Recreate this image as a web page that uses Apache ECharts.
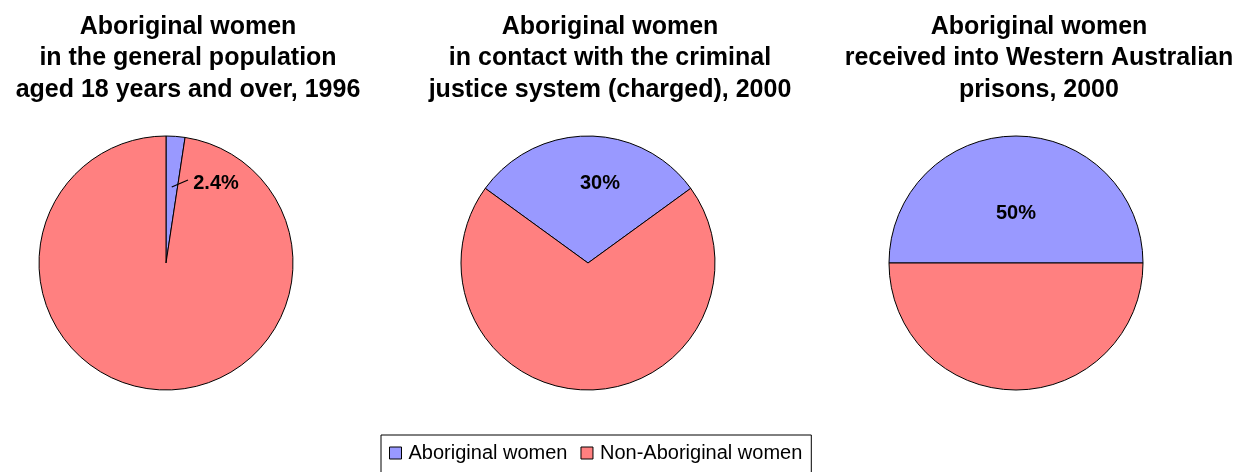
<!DOCTYPE html>
<html>
<head>
<meta charset="utf-8">
<script src="https://cdn.jsdelivr.net/npm/echarts@6/dist/echarts.min.js"></script>
<style>
html,body{margin:0;padding:0;background:#fff;}
#chart{width:1241px;height:472px;}
</style>
</head>
<body>
<div id="chart"></div>
<script>
const categories = ['Aboriginal women', 'Non-Aboriginal women'];
const panelTitles = [
  'Aboriginal women\nin the general population\naged 18 years and over, 1996',
  'Aboriginal women\nin contact with the criminal\njustice system (charged), 2000',
  'Aboriginal women\nreceived into Western Australian\nprisons, 2000'
];
const aboriginalShare = [2.4, 30, 50];
const nonAboriginalShare = [97.6, 70, 50];
const labelText = ['2.4%', '30%', '50%'];

const colors = ['#9999FF', '#FF8080'];
const pieCenters = [[166, 263], [588, 263], [1016, 263]];
const titleCenters = [183, 605, 1034];
const R = 127;
const startAngles = aboriginalShare.map((v, i) => i === 0 ? 90 : 90 + v * 1.8);
// label offsets relative to pie centre (styling)
const labelOffsets = [[50, -80], [12, -80], [0, -50]];
const FONT = 'Liberation Sans, Arial, sans-serif';

const chart = echarts.init(document.getElementById('chart'), null, {renderer: 'canvas'});

const titles = panelTitles.map((t, i) => ({
  text: t,
  left: titleCenters[i],
  top: 6,
  textAlign: 'center',
  textStyle: {
    fontFamily: FONT,
    fontWeight: 'bold',
    fontSize: 25,
    lineHeight: 31.5,
    color: '#000'
  }
}));

const series = aboriginalShare.map((v, i) => {
  const c = pieCenters[i];
  const off = labelOffsets[i];
  return {
    type: 'pie',
    center: c,
    radius: R,
    startAngle: startAngles[i],
    clockwise: true,
    silent: true,
    animation: false,
    avoidLabelOverlap: false,
    itemStyle: {borderColor: '#000', borderWidth: 1},
    label: {
      show: true,
      position: 'inside',
      fontFamily: FONT,
      fontWeight: 'bold',
      fontSize: 20,
      color: '#000',
      formatter: p => p.dataIndex === 0 ? labelText[i] : ''
    },
    labelLine: {show: false},
    labelLayout: function (params) {
      if (params.dataIndex !== 0) return {};
      return {x: c[0] + off[0], y: c[1] + off[1], align: 'center', verticalAlign: 'middle'};
    },
    data: [
      {name: categories[0], value: v, itemStyle: {color: colors[0]}},
      {name: categories[1], value: nonAboriginalShare[i], itemStyle: {color: colors[1]}}
    ]
  };
});

// leader line for the small slice of the first pie (from the slice's mid-angle to its label)
const c0 = pieCenters[0];
const mid0 = (aboriginalShare[0] / (aboriginalShare[0] + nonAboriginalShare[0])) * Math.PI; // half the slice angle (rad)
const leaderStart = [c0[0] + 0.6 * R * Math.sin(mid0), c0[1] - 0.6 * R * Math.cos(mid0)];
const leaderEnd = [c0[0] + labelOffsets[0][0] - 28, c0[1] + labelOffsets[0][1] - 3];

chart.setOption({
  backgroundColor: '#fff',
  title: titles,
  legend: {
    data: categories,
    left: 381,
    top: 435,
    orient: 'horizontal',
    icon: 'rect',
    itemWidth: 12,
    itemHeight: 12,
    itemGap: 13,
    borderColor: '#000',
    borderWidth: 1,
    padding: [8, 9, 14, 8],
    selectedMode: false,
    itemStyle: {borderColor: '#000', borderWidth: 1},
    textStyle: {
      fontFamily: FONT,
      fontSize: 20,
      color: '#000',
      padding: [0, 0, 0, 2]
    }
  },
  graphic: [{
    type: 'line',
    silent: true,
    z: 100,
    shape: {x1: leaderStart[0], y1: leaderStart[1], x2: leaderEnd[0], y2: leaderEnd[1]},
    style: {stroke: '#000', lineWidth: 1.2}
  }],
  series: series
});
</script>
</body>
</html>
